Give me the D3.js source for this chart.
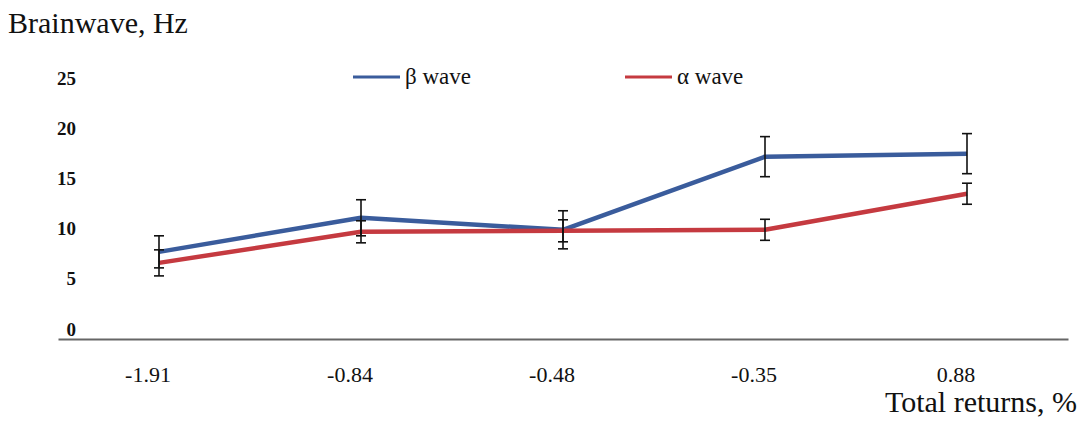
<!DOCTYPE html>
<html lang="en">
<head>
    <meta charset="UTF-8">
    <title>Brainwave</title>
    <script src="https://d3js.org/d3.v7.min.js"></script>
    <style>
        html, body{
            margin:0;
            background:#fff;
        }
        .line{
            fill:none;
            stroke-width:4.5;
            stroke-linejoin:round;
        }
        .err{
            stroke:#111;
            stroke-width:1.6;
        }
    </style>
</head>
<body>
<div id="chart"></div>

<script>
    // data
    var categories = ["-1.91", "-0.84", "-0.48", "-0.35", "0.88"];
    var betaValues = [7.7, 11.1, 9.9, 17.2, 17.5];
    var betaErrors = [1.6, 1.8, 1.9, 2.0, 2.0];
    var alphaValues = [6.6, 9.7, 9.8, 9.9, 13.5];
    var alphaErrors = [1.3, 1.1, 1.1, 1.05, 1.05];
    var yTicks = [0, 5, 10, 15, 20, 25];

    var series = [
        {name:"β wave", color:"#3a5c9c", values:betaValues, errors:betaErrors},
        {name:"α wave", color:"#c53a40", values:alphaValues, errors:alphaErrors}
    ];

    var FONT = "Liberation Serif";
    var W = 1081, H = 423;
    var plotLeft = 58, plotRight = 1068, plotBottom = 339;

    var svg = d3.select("#chart").append("svg")
        .attr("width", W)
        .attr("height", H);

    var x = d3.scaleBand()
        .domain(categories)
        .range([plotLeft, plotRight])
        .paddingInner(0);

    var y = d3.scaleLinear()
        .domain([0, 25])
        .range([329, 78.5]);

    function cx(d){ return x(d) + x.bandwidth()/2; }

    // y axis, labels only
    var yAxis = svg.append("g")
        .attr("transform", "translate(79,0)")
        .call(d3.axisLeft(y).tickValues(yTicks).tickSize(0).tickPadding(3));
    yAxis.attr("font-family", FONT);
    yAxis.select(".domain").remove();
    yAxis.selectAll("text")
        .attr("font-family", FONT)
        .attr("font-size", 19)
        .attr("font-weight", "bold")
        .attr("fill", "#111");

    // x axis
    var xAxis = svg.append("g")
        .attr("transform", "translate(0," + plotBottom + ")")
        .call(d3.axisBottom(x).tickSize(0).tickSizeOuter(0).tickPadding(27));
    xAxis.attr("font-family", FONT);
    xAxis.select(".domain")
        .attr("stroke", "#666")
        .attr("stroke-width", 2);
    xAxis.selectAll("text")
        .attr("font-family", FONT)
        .attr("font-size", 22)
        .attr("dx", -11)
        .attr("fill", "#111");

    var line = d3.line()
        .x(function(d, i){ return cx(categories[i]); })
        .y(function(d){ return y(d); });

    series.forEach(function(s){
        svg.append("path")
            .datum(s.values)
            .attr("class", "line")
            .attr("stroke", s.color)
            .attr("d", line);
    });

    // error bars on top of lines
    series.forEach(function(s){
        var g = svg.append("g");
        s.values.forEach(function(v, i){
            var px = cx(categories[i]);
            var top = y(v + s.errors[i]), bot = y(v - s.errors[i]);
            g.append("line").attr("class", "err")
                .attr("x1", px).attr("x2", px).attr("y1", top).attr("y2", bot);
            g.append("line").attr("class", "err")
                .attr("x1", px - 5).attr("x2", px + 5).attr("y1", top).attr("y2", top);
            g.append("line").attr("class", "err")
                .attr("x1", px - 5).attr("x2", px + 5).attr("y1", bot).attr("y2", bot);
        });
    });

    // legend
    var legendX = [353, 625];
    series.forEach(function(s, i){
        var lg = svg.append("g").attr("transform", "translate(" + legendX[i] + ",77)");
        lg.append("line")
            .attr("x1", 0).attr("x2", 47)
            .attr("stroke", s.color)
            .attr("stroke-width", 3);
        lg.append("text")
            .attr("x", 52)
            .attr("y", 7)
            .attr("font-family", FONT)
            .attr("font-size", 23)
            .attr("fill", "#111")
            .text(s.name);
    });

    // axis titles
    svg.append("text")
        .attr("x", 8)
        .attr("y", 33)
        .attr("font-family", FONT)
        .attr("font-size", 30)
        .attr("fill", "#111")
        .text("Brainwave, Hz");

    svg.append("text")
        .attr("x", 1077)
        .attr("y", 412)
        .attr("text-anchor", "end")
        .attr("font-family", FONT)
        .attr("font-size", 30)
        .attr("fill", "#111")
        .text("Total returns, %");
</script>
</body>
</html>
